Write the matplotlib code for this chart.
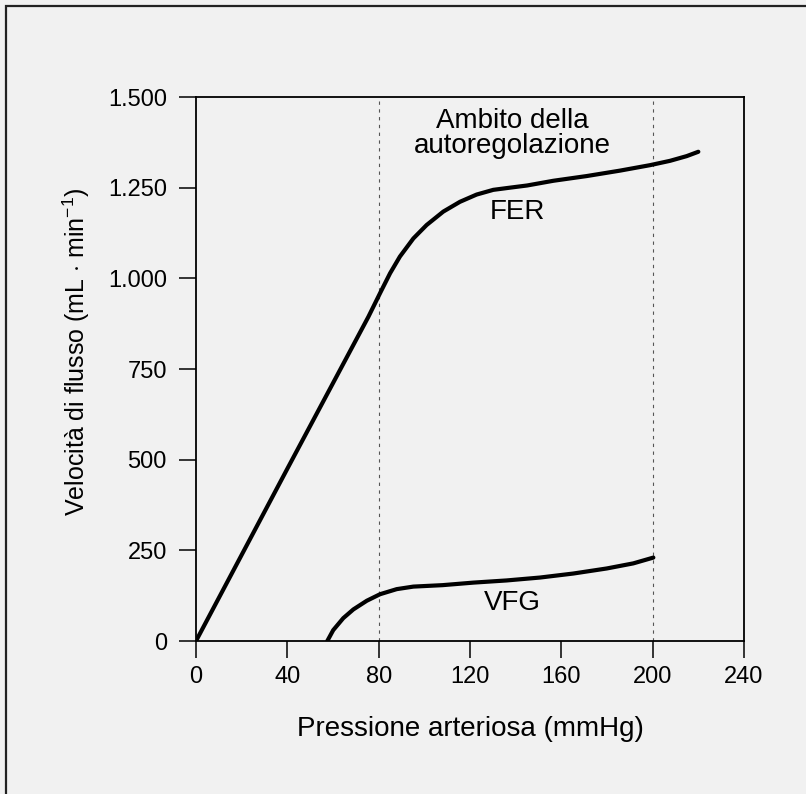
import matplotlib.pyplot as plt
from matplotlib.patches import Rectangle

# Curve points
fer_x = [0, 40, 75.5, 80.6, 85.0, 89.3, 95.2, 101.0, 108.3, 115.6, 122.9, 130.2, 137.5,
         145, 156.5, 171.1, 185.7, 198.8, 207.6, 214.9, 220]
fer_y = [0, 475, 894, 959, 1014, 1060, 1110, 1147, 1184, 1211, 1231, 1244, 1250,
         1256, 1269, 1282, 1297, 1312, 1324, 1337, 1349]
vfg_x = [57.5, 60.1, 64.5, 68.9, 74.8, 80.6, 87.9, 95.2, 108, 121.5, 136.1, 150.7,
         165.2, 179.9, 191.5, 200.3]
vfg_y = [0, 30, 63, 87, 111, 129, 143, 150, 154, 161, 167, 175, 186, 200, 214, 230]

x_ticks = [0, 40, 80, 120, 160, 200, 240]
y_ticks = [0, 250, 500, 750, 1000, 1250, 1500]
y_tick_labels = ['0', '250', '500', '750', '1.000', '1.250', '1.500']
autoreg_limits = [80, 200]

plt.rcParams['font.family'] = ['Liberation Sans', 'DejaVu Sans']
plt.rcParams['mathtext.fontset'] = 'custom'
plt.rcParams['mathtext.rm'] = 'Liberation Sans'
plt.rcParams['mathtext.it'] = 'Liberation Sans'

bg = '#f1f1f1'
fig = plt.figure(figsize=(8.06, 7.94), dpi=100, facecolor=bg)
ax = fig.add_axes([196/806, 1-641/794, 548/806, 544/794])
ax.set_facecolor(bg)

# frame around the figure
fig.patches.append(Rectangle((6/806, -0.05), 1.0, 1.05 - 6/794, transform=fig.transFigure,
                             fill=False, edgecolor='#222222', linewidth=1.6))

for xv in autoreg_limits:
    ax.axvline(xv, color='#555555', linewidth=0.8, linestyle=(0, (3, 4)))

ax.plot(fer_x, fer_y, color='black', linewidth=3, solid_capstyle='round', solid_joinstyle='round')
ax.plot(vfg_x, vfg_y, color='black', linewidth=3, solid_capstyle='round', solid_joinstyle='round')

ax.text(138.4, 1400, 'Ambito della\nautoregolazione', ha='center', va='center',
        fontsize=20, linespacing=0.95)
ax.text(140.6, 1183, 'FER', ha='center', va='center', fontsize=20)
ax.text(138.4, 105, 'VFG', ha='center', va='center', fontsize=20)

ax.set_xlim(0, 240)
ax.set_ylim(0, 1500)
ax.set_xticks(x_ticks)
ax.set_yticks(y_ticks)
ax.set_yticklabels(y_tick_labels)
ax.tick_params(direction='out', length=12, width=1.1, labelsize=17)
ax.tick_params(axis='x', pad=6)
ax.tick_params(axis='y', pad=9)
for s in ax.spines.values():
    s.set_linewidth(1.3)

ax.set_xlabel('Pressione arteriosa (mmHg)', fontsize=20, labelpad=20)
ax.set_ylabel(r'Velocità di flusso (mL $\cdot$ min$^{-1}$)', fontsize=18)
ax.yaxis.set_label_coords(-0.19, 0.531)

fig.savefig('out.png', dpi=100, facecolor=bg)
